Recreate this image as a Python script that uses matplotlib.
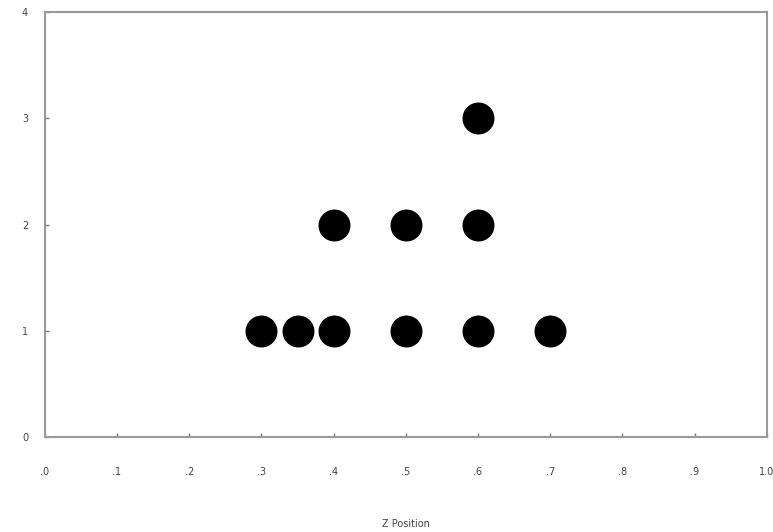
import numpy as np
import matplotlib.pyplot as plt

# dot plot values
zPos = [0.30, 0.35, 0.40, 0.50, 0.60, 0.70, 0.40, 0.50, 0.60, 0.60]
counts = [1, 1, 1, 1, 1, 1, 2, 2, 2, 3]
xTicks = [0.0, 0.1, 0.2, 0.3, 0.4, 0.5, 0.6, 0.7, 0.8, 0.9, 1.0]
xTickLabels = ['.0', '.1', '.2', '.3', '.4', '.5', '.6', '.7', '.8', '.9', '1.0']
yTicks = [0, 1, 2, 3, 4]

fig = plt.figure(figsize=(7.73, 5.32), dpi=100)
ax = fig.add_axes([0.058, 0.179, 0.934, 0.798])

ax.plot(zPos, counts, 'o', color='black', markersize=22, clip_on=False)

ax.set_xlim(0, 1.0)
ax.set_ylim(0, 4)
ax.set_xticks(xTicks)
ax.set_xticklabels(xTickLabels)
ax.set_yticks(yTicks)
ax.tick_params(direction='in', length=3, width=1, color='#777777',
               labelsize=7, labelcolor='#444444', pad=22)
ax.tick_params(axis='y', pad=12)
for s in ax.spines.values():
    s.set_color('#999999')
    s.set_linewidth(1.5)

ax.set_xlabel('Z Position', fontsize=7, color='#444444', labelpad=30)

fig.savefig('out.png', dpi=100)
